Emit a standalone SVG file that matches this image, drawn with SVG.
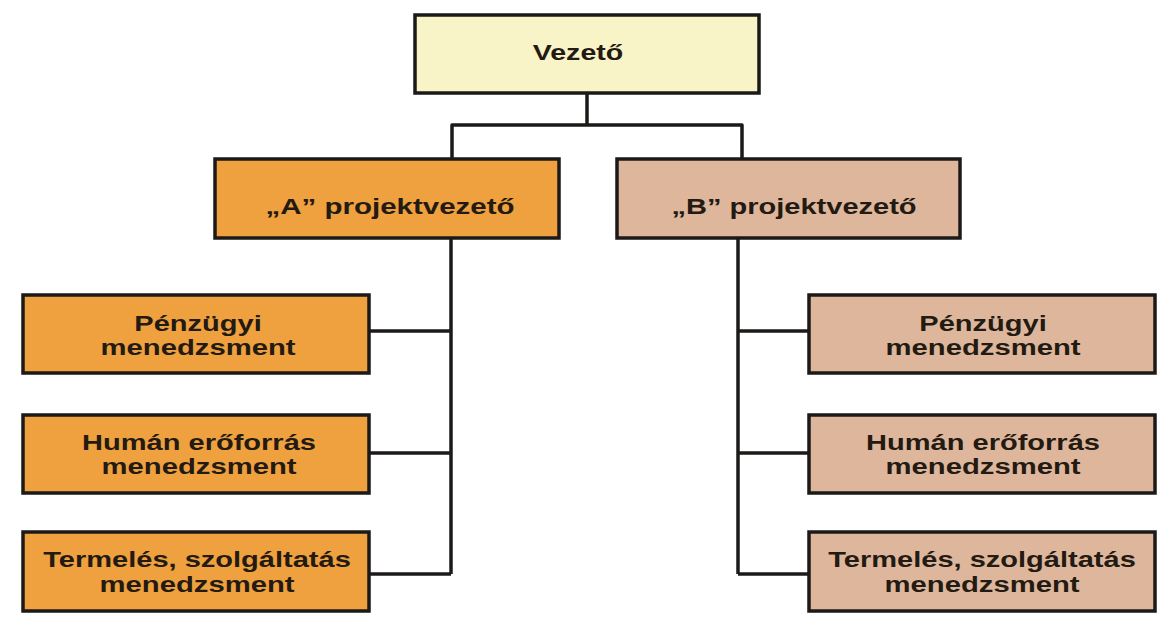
<svg xmlns="http://www.w3.org/2000/svg" width="1168" height="634" viewBox="0 0 1168 634">
<style>
.box{stroke:#1c1a18;stroke-width:3.5}
.top{fill:#f9f3c8}
.a{fill:#efa03f}
.b{fill:#ddb69c}
.t{font-family:"Liberation Sans",Arial,sans-serif;font-weight:bold;font-size:22px;fill:#231a12;text-anchor:middle}
.ln{fill:none;stroke:#1c1a18;stroke-width:3.5;stroke-linejoin:round;stroke-linecap:butt}
</style>
<rect width="1168" height="634" fill="#ffffff"/>
<g id="connectors">
<path class="ln" d="M587,93 V125"/>
<path class="ln" d="M452,160 V125 H742 V160"/>
<path class="ln" d="M451,238 V574"/>
<path class="ln" d="M369,331 H451"/>
<path class="ln" d="M369,453 H451"/>
<path class="ln" d="M369,574 H451"/>
<path class="ln" d="M738,238 V574"/>
<path class="ln" d="M738,331 H809"/>
<path class="ln" d="M738,453 H809"/>
<path class="ln" d="M738,574 H809"/>
</g>
<g id="vezeto">
<rect class="box top" x="415" y="15" width="344" height="78"/>
<text class="t" transform="translate(578,60) scale(1.3,1)">Vezető</text>
</g>
<g id="a-projektvezeto">
<rect class="box a" x="215" y="159" width="344" height="79"/>
<text class="t" transform="translate(390,214) scale(1.34,1)">„A” projektvezető</text>
</g>
<g id="b-projektvezeto">
<rect class="box b" x="617" y="159" width="343" height="79"/>
<text class="t" transform="translate(794,214) scale(1.32,1)">„B” projektvezető</text>
</g>
<g id="a-penzugyi">
<rect class="box a" x="23" y="295" width="346" height="78"/>
<text class="t" transform="translate(198,331) scale(1.32,1)">Pénzügyi</text>
<text class="t" transform="translate(198,355) scale(1.33,1)">menedzsment</text>
</g>
<g id="a-human">
<rect class="box a" x="23" y="415" width="346" height="78"/>
<text class="t" transform="translate(199,450) scale(1.32,1)">Humán erőforrás</text>
<text class="t" transform="translate(199,474) scale(1.33,1)">menedzsment</text>
</g>
<g id="a-termeles">
<rect class="box a" x="23" y="532" width="346" height="79"/>
<text class="t" transform="translate(197,567) scale(1.32,1)">Termelés, szolgáltatás</text>
<text class="t" transform="translate(197,592) scale(1.33,1)">menedzsment</text>
</g>
<g id="b-penzugyi">
<rect class="box b" x="809" y="295" width="346" height="78"/>
<text class="t" transform="translate(983,331) scale(1.32,1)">Pénzügyi</text>
<text class="t" transform="translate(983,355) scale(1.33,1)">menedzsment</text>
</g>
<g id="b-human">
<rect class="box b" x="809" y="415" width="346" height="78"/>
<text class="t" transform="translate(983,450) scale(1.32,1)">Humán erőforrás</text>
<text class="t" transform="translate(983,474) scale(1.33,1)">menedzsment</text>
</g>
<g id="b-termeles">
<rect class="box b" x="809" y="532" width="346" height="79"/>
<text class="t" transform="translate(982,567) scale(1.32,1)">Termelés, szolgáltatás</text>
<text class="t" transform="translate(982,592) scale(1.33,1)">menedzsment</text>
</g>
</svg>
